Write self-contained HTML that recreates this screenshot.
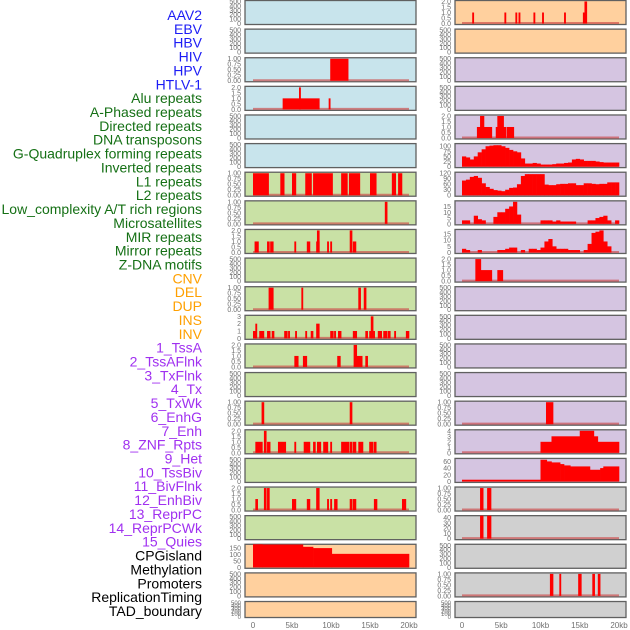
<!DOCTYPE html>
<html><head><meta charset="utf-8">
<style>
html,body{margin:0;padding:0;background:#fff;}
#wrap{position:relative;width:630px;height:630px;overflow:hidden;font-family:"Liberation Sans",sans-serif;}
svg{position:absolute;left:0;top:0;}
</style></head>
<body>
<div id="wrap">
<svg id="chart" width="630" height="630" viewBox="0 0 630 630"></svg>
</div>
<script>
// ---- track labels ----
const labelTexts = ["AAV2","EBV","HBV","HIV","HPV","HTLV-1","Alu repeats","A-Phased repeats","Directed repeats","DNA transposons","G-Quadruplex forming repeats","Inverted repeats","L1 repeats","L2 repeats","Low_complexity A/T rich regions","Microsatellites","MIR repeats","Mirror repeats","Z-DNA motifs","CNV","DEL","DUP","INS","INV","1_TssA","2_TssAFlnk","3_TxFlnk","4_Tx","5_TxWk","6_EnhG","7_Enh","8_ZNF_Rpts","9_Het","10_TssBiv","11_BivFlnk","12_EnhBiv","13_ReprPC","14_ReprPCWk","15_Quies","CPGisland","Methylation","Promoters","ReplicationTiming","TAD_boundary"];
const labelGroups = ["v","v","v","v","v","v","r","r","r","r","r","r","r","r","r","r","r","r","r","s","s","s","s","s","c","c","c","c","c","c","c","c","c","c","c","c","c","c","c","o","o","o","o","o"];
const groupColors = {v:"#1c1cf5",r:"#157015",s:"#ffa000",c:"#a030f0",o:"#000000"};

// ---- x axis ----
const xTickKb = [0,5,10,15,20];
const xTickLabels = ["0","5kb","10kb","15kb","20kb"];

// ---- tick sets ----
const ticksEmpty = [0,100,200,300,400,500];
const ticks1 = [0,0.25,0.5,0.75,1];
const ticks2 = [0,0.5,1,1.5,2];
const ticks3 = [0,1,2,3];
const ticks4 = [0,1,2,3,4];
const ticks100 = [0,25,50,75,100];
const ticks120 = [0,30,60,90,120];
const ticks15 = [0,5,10,15];
const ticks60 = [0,20,40,60];
const ticks40 = [0,10,20,30,40];
const ticks150 = [0,50,100,150];

// ---- interval data [startKb, endKb, value] ----
const aav2R = [[1.3,1.5,1],[5.4,5.6,1],[6.8,7.0,1],[7.2,7.4,1],[9.1,9.3,1],[10.2,10.4,1],[13.0,13.2,1],[15.4,15.6,1],[15.6,15.9,2]];
const hivL = [[9.9,12.2,1]];
const aluL = [[3.8,8.5,1],[5.9,6.1,2],[9.7,9.9,1]];
const aPhasedR = [[1.9,3.8,1],[2.3,2.8,2],[4.3,5.6,1],[4.5,5.3,2],[5.7,6.6,1]];
const l1L = [[0,2],[3.5,4],[5,5.5],[6.7,7.5],[7.7,10.2],[11.3,12.1],[12.3,13.7],[15,15.8],[17.8,18.3],[18.6,19.1]].map(d=>[d[0],d[1],1]);
const l2L = [[16.9,17.2,1]];
const lowCxL = [[0.2,0.7,1],[1.8,2.1,1],[2.2,2.6,1],[5.3,5.5,1],[6.9,7.3,1],[8.1,8.5,1],[8.2,8.5,2],[9.5,9.7,1],[9.9,10.1,1],[12.4,12.7,2],[12.8,13.2,1]];
const zdnaR = [[1.7,2.4,2],[2.4,3.8,1],[4.5,5.2,1]];
const cnvL = [[2,2.6,1],[6.2,6.4,1],[13.5,13.8,1],[14.2,14.5,1]];
const delL = [[0,0.4,1],[0.3,0.5,2],[0.8,1.4,1],[1.8,2.2,1],[2.4,2.7,1],[4,4.4,1],[4.5,4.7,1],[5.4,5.6,1],[6.7,6.9,1],[7.4,7.7,1],[8.1,8.5,2],[9.9,10.3,1],[10.4,10.6,1],[10.9,11.3,1],[12.8,13.3,1],[14.4,14.7,1],[14.9,15.3,1],[15.1,15.4,3],[15.4,15.6,1],[16,16.5,1],[16.7,17.2,1],[17.3,17.6,1],[18.1,18.3,1],[19.6,20,1]];
const dupL = [[5.3,5.8,1],[6.4,6.9,1],[10.8,11.2,1],[12.9,13.3,2],[13.3,14,1],[14.4,14.7,1]];
const tssAR = [[10.7,11.6,1]];
const insL = [[1.1,1.4,1],[12.4,12.7,1]];
const invL = [[0.3,1.2,1],[1.4,1.7,2],[1.8,2.2,1],[3.2,4.2,1],[5.3,5.5,1],[6.5,7.3,1],[7.7,8,1],[8.2,8.7,1],[9,9.6,1],[9.9,10.1,1],[11.3,12.3,1],[12.4,12.7,1],[12.8,13.2,1],[13.5,14.1,1],[14.9,15.4,1],[15.5,15.8,1]];
const txWkR = [[10,11.4,2],[11.4,15,3],[15,16.8,4],[16.8,17.3,3],[17.3,20,2]];
const txFlnkL = [[0.3,0.6,1],[1.4,1.7,2],[1.8,2.1,2],[5,5.5,1],[6.9,7.3,1],[8.1,8.5,2],[9.5,9.7,1],[9.9,10.1,1],[10.4,10.8,1],[12.4,12.7,1],[12.8,13.2,1],[15.5,15.9,1],[19.1,19.6,1]];
const enhGR = [[0,10,5],[10,10.8,65],[10.8,11.4,60],[11.4,12.5,57],[12.5,13,52],[13,13.8,48],[13.8,16.3,45],[16.3,17.6,35],[17.6,18,40],[18,20,45]];
const enhR = [[2.3,2.7,1],[3.2,3.7,1]];
const znfR = [[2.3,2.7,45],[3.2,3.7,45]];
const cpgL = [[0,0.8,180],[0.8,1.2,185],[1.2,6.4,178],[6.4,7.7,160],[7.7,10.1,150],[10.1,20,105]];
const promR = [[11.2,11.6,1],[12.4,12.6,1],[14.8,15.2,1],[16.6,16.9,1],[17.3,17.6,1]];

// ---- profile data (values every 0.5 kb from 0 to 19.5 kb) ----
const gquadR = [50,45,35,50,70,85,100,103,105,105,100,92,82,75,70,40,15,15,18,15,10,10,10,12,15,15,18,20,35,38,35,28,28,28,25,22,20,20,20,20];
const invRepR = [80,85,100,105,95,65,45,35,28,25,22,30,40,42,60,105,115,115,115,115,115,58,55,55,60,62,62,65,65,55,55,65,65,62,60,62,62,70,70,70];
const lowCxR = [3,3,0,7,4,3,0,0,6,10,10,13,15,19,8,0,0,0,0,0,3,3,3,2,3,2,2,2,2,0,0,0,3,3,5,6,7,3,0,3];
const mirR = [3,2,0,0,2,0,0,0,0,2,2,3,4,4,0,2,0,3,3,2,4,9,11,5,3,3,3,2,2,2,0,2,7,16,17,18,9,5,0,0];

// ---- panel layout: [column, row, bg, ticks, ymax, intervals, profile] ----
const BG = {b:"#c8e4ec",g:"#c9e1a5",o:"#ffd09e",p:"#d5c5e1",y:"#d0d0d0"};
const panels = [
 [0,0,"b",ticksEmpty,500,null,null],[1,0,"o",ticks2,2,aav2R,null],
 [0,1,"b",ticksEmpty,500,null,null],[1,1,"o",ticksEmpty,500,null,null],
 [0,2,"b",ticks1,1,hivL,null],[1,2,"p",ticksEmpty,500,null,null],
 [0,3,"b",ticks2,2,aluL,null],[1,3,"p",ticksEmpty,500,null,null],
 [0,4,"b",ticksEmpty,500,null,null],[1,4,"p",ticks2,2,aPhasedR,null],
 [0,5,"b",ticksEmpty,500,null,null],[1,5,"p",ticks100,108,null,gquadR],
 [0,6,"g",ticks1,1,l1L,null],[1,6,"p",ticks120,120,null,invRepR],
 [0,7,"g",ticks1,1,l2L,null],[1,7,"p",ticks15,19,null,lowCxR],
 [0,8,"g",ticks2,2,lowCxL,null],[1,8,"p",ticks15,18,null,mirR],
 [0,9,"g",ticksEmpty,500,null,null],[1,9,"p",ticks2,2,zdnaR,null],
 [0,10,"g",ticks1,1,cnvL,null],[1,10,"p",ticksEmpty,500,null,null],
 [0,11,"g",ticks3,3,delL,null],[1,11,"p",ticksEmpty,500,null,null],
 [0,12,"g",ticks2,2,dupL,null],[1,12,"p",ticksEmpty,500,null,null],
 [0,13,"g",ticksEmpty,500,null,null],[1,13,"p",ticksEmpty,500,null,null],
 [0,14,"g",ticks1,1,insL,null],[1,14,"p",ticks1,1,tssAR,null],
 [0,15,"g",ticks2,2,invL,null],[1,15,"p",ticks4,4,txWkR,null],
 [0,16,"g",ticksEmpty,500,null,null],[1,16,"p",ticks60,66,enhGR,null],
 [0,17,"g",ticks2,2,txFlnkL,null],[1,17,"y",ticks1,1,enhR,null],
 [0,18,"g",ticksEmpty,500,null,null],[1,18,"y",ticks40,42,znfR,null],
 [0,19,"o",ticks150,172,cpgL,null],[1,19,"y",ticksEmpty,500,null,null],
 [0,20,"o",ticksEmpty,500,null,null],[1,20,"y",ticks1,1,promR,null],
 [0,21,"o",ticksEmpty,500,null,null],[1,21,"y",ticksEmpty,500,null,null]
];

const NS="http://www.w3.org/2000/svg";
const svg=document.getElementById("chart");
function mk(tag,attrs,parent){const e=document.createElementNS(NS,tag);for(const k in attrs)e.setAttribute(k,attrs[k]);(parent||svg).appendChild(e);return e;}
const PX=[245,455], PW=171, PITCH=28.62;
function panelH(r){return r===21?16:24;}
function xScale(col,kb){return col===0?253+kb*7.8:462+kb*7.85;}
function rowTop(r){return 0.5+r*PITCH;}
function yScale(r,ymax,v){const t=rowTop(r),H=panelH(r);return Math.max(t,t+H-1-(v/ymax)*(H-2));}
function fmt(t,ticks){const m=ticks[ticks.length-1];if(m===1)return t.toFixed(2);if(m===2)return t.toFixed(1);return String(t);}

// labels
labelTexts.forEach((txt,i)=>{
  const t=mk("text",{x:202,y:15+i*13.86+5,"text-anchor":"end","font-size":"14","fill":groupColors[labelGroups[i]],"font-family":"Liberation Sans, sans-serif"});
  
  
  t.textContent=txt;
});

panels.forEach(p=>{
  const [col,row,bg,ticks,ymax,iv,prof]=p;
  const g=mk("g",{});
  
  
  const top=rowTop(row), x0=PX[col], PH=panelH(row);
  const bgR=mk("rect",{x:x0,y:top,width:PW,height:PH,fill:BG[bg],stroke:"#606060","stroke-width":"1.3"},g);
  
  
  const tm=ticks[ticks.length-1];
  const fs = PH<20 ? 6 : 7;
  ticks.forEach(t=>{
    const ty=top+PH-1-(t/tm)*(PH-2)*(tm/ymax>1?1:tm/ymax);
    const lt=mk("text",{x:x0-4,y:ty+2.5,"text-anchor":"end","font-size":fs,"fill":"#707070"},g);
    
    
    lt.textContent=fmt(t,ticks);
  });
  if(iv||prof){
    const bl=mk("line",{x1:xScale(col,0),x2:xScale(col,20),y1:top+PH-1.5,y2:top+PH-1.5,stroke:"rgba(205,70,70,0.65)","stroke-width":"2"},g);
    
    
  }
  const bars=[];
  if(iv) iv.forEach(d=>bars.push(d));
  if(prof) prof.forEach((v,i)=>{ if(v>0) bars.push([i*0.5,i*0.5+0.5,v]); });
  bars.forEach(d=>{
    const xa=xScale(col,d[0]), xb=xScale(col,d[1]);
    const yv=yScale(row,ymax,d[2]), yb=top+PH-1;
    const b=mk("rect",{x:xa,y:yv,width:Math.max(1.6,xb-xa+0.3),height:Math.max(0,yb-yv),fill:"#ff0000"},g);
    
    
  });
});

// x axis labels
[0,1].forEach(col=>{
  xTickKb.forEach((kb,i)=>{
    const t=mk("text",{x:xScale(col,kb),y:628,"text-anchor":"middle","font-size":"8","fill":"#707070"});
    
    
    t.textContent=xTickLabels[i];
  });
});
</script>
</body></html>
